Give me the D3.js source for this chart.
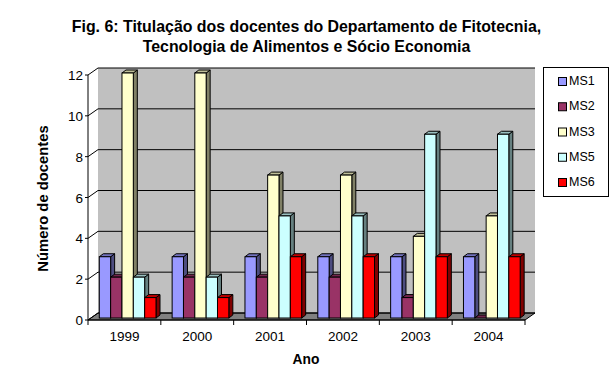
<!DOCTYPE html>
<html><head><meta charset="utf-8">
<script src="https://cdn.jsdelivr.net/npm/d3@7/dist/d3.min.js"></script>
<style>html,body{margin:0;padding:0;background:#fff}svg{display:block}text{font-family:"Liberation Sans",Arial,sans-serif;fill:#000}</style>
</head><body><svg id="c" width="613" height="382"></svg>
<script>
const years = ["1999","2000","2001","2002","2003","2004"];
const seriesNames = ["MS1","MS2","MS3","MS5","MS6"];
const MS1 = [3,3,3,3,3,3];
const MS2 = [2,2,2,2,1,0];
const MS3 = [12,12,7,7,4,5];
const MS5 = [2,2,5,5,9,9];
const MS6 = [1,1,3,3,3,3];
const seriesValues = [MS1,MS2,MS3,MS5,MS6];
const frontColors = ["#9999ff","#993366","#ffffcc","#ccffff","#ff0000"];
const sideColors = ["#4d4d80","#4d1a33","#808066","#668080","#800000"];
const topColors = ["#7373bf","#73264d","#bfbf99","#99bfbf","#bf0000"];
const titleLines = ["Fig. 6: Titulação dos docentes do Departamento de Fitotecnia,","Tecnologia de Alimentos e Sócio Economia"];
const yTicks = [0,2,4,6,8,10,12];

const svg = d3.select("#c");
const x = d3.scaleBand().domain(years).range([88,525]);
const y = d3.scaleLinear().domain([0,12]).range([320,75]);
const inner = d3.scaleBand().domain(seriesNames).range([11.3,68]);
const dX = 10, dY = -7;          // wall depth
const bX = 4, bY = -3, bOff = -2; // bar depth, bar base offset

const poly = pts => pts.map(p=>p.join(",")).join(" ");
const x0 = x.range()[0], x1 = x.range()[1];
// walls & floor
svg.append("polygon").attr("points",poly([[x0,y(0)],[x0+dX,y(0)+dY],[x0+dX,y(12)+dY],[x1+dX,y(12)+dY],[x1+dX,y(0)+dY],[x0,y(0)]]))
  .attr("fill","#c0c0c0");
svg.append("polygon").attr("points",poly([[x0,y(0)],[x0+dX,y(0)+dY],[x1+dX,y(0)+dY],[x1,y(0)]]))
  .attr("fill","#808080").attr("stroke","#000").attr("stroke-width",1);
// gridlines
yTicks.forEach(t=>{
  svg.append("polyline").attr("points",poly([[x0,y(t)],[x0+dX,y(t)+dY],[x1+dX,y(t)+dY]]))
    .attr("fill","none").attr("stroke","#000").attr("stroke-width",1);
});
// left axis
svg.append("line").attr("x1",x0).attr("x2",x0).attr("y1",y(0)).attr("y2",y(12)).attr("stroke","#000");
yTicks.forEach(t=>{
  svg.append("line").attr("x1",x0-3).attr("x2",x0).attr("y1",y(t)).attr("y2",y(t)).attr("stroke","#000");
  svg.append("text").attr("x",x0-5).attr("y",y(t)+5).attr("text-anchor","end").attr("font-size",13.5).text(t);
});
// bottom axis
svg.append("line").attr("x1",x0).attr("x2",x1).attr("y1",y(0)).attr("y2",y(0)).attr("stroke","#000");
x.domain().concat(["end"]).forEach((d,i)=>{
  const px = d==="end"?x1:x(d);
  svg.append("line").attr("x1",px).attr("x2",px).attr("y1",y(0)).attr("y2",y(0)+5).attr("stroke","#000");
});
years.forEach(d=>{
  svg.append("text").attr("x",x(d)+x.bandwidth()/2).attr("y",341).attr("text-anchor","middle").attr("font-size",13.5).text(d);
});
// bars
years.forEach((yr,i)=>{
  seriesNames.forEach((s,j)=>{
    const v = seriesValues[j][i];
    const l = x(yr)+inner(s), r = l+inner.bandwidth();
    const b = y(0)+bOff, t = y(v)+bOff;
    const g = svg.append("g").attr("stroke","#000").attr("stroke-width",1);
    g.append("polygon").attr("points",poly([[r,t],[r+bX,t+bY],[r+bX,b+bY],[r,b]])).attr("fill",sideColors[j]);
    g.append("polygon").attr("points",poly([[l,t],[l+bX,t+bY],[r+bX,t+bY],[r,t]])).attr("fill",topColors[j]);
    g.append("rect").attr("x",l).attr("y",t).attr("width",r-l).attr("height",b-t).attr("fill",frontColors[j]);
  });
});
// title
titleLines.forEach((t,i)=>{
  svg.append("text").attr("x",306.5).attr("y",32+i*20).attr("text-anchor","middle").attr("font-size",15.9).attr("font-weight","bold").text(t);
});
svg.append("text").attr("x",306).attr("y",364).attr("text-anchor","middle").attr("font-size",13.8).attr("font-weight","bold").text("Ano");
svg.append("text").attr("transform","translate(48,198.5) rotate(-90)").attr("text-anchor","middle").attr("font-size",14.8).attr("font-weight","bold").text("Número de docentes");
// legend
svg.append("rect").attr("x",543.5).attr("y",67.5).attr("width",65).attr("height",129).attr("fill","#fff").attr("stroke","#000");
const legY = d3.scalePoint().domain(seriesNames).range([81,182]);
seriesNames.forEach((s,j)=>{
  svg.append("rect").attr("x",558.5).attr("y",legY(s)-3.5).attr("width",8).attr("height",8).attr("fill",frontColors[j]).attr("stroke","#000");
  svg.append("text").attr("x",569).attr("y",legY(s)+4).attr("font-size",12.5).text(s);
});
</script></body></html>
